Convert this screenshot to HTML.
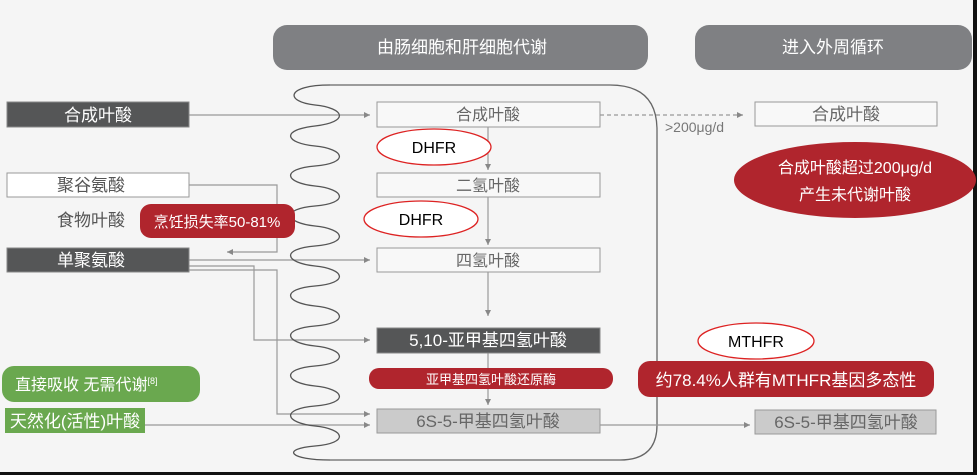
<!DOCTYPE html>
<html><head><meta charset="utf-8"><style>
body{margin:0;width:977px;height:475px;overflow:hidden;background:#f5f5f5;font-family:"Liberation Sans","Noto Sans CJK SC",sans-serif}
</style></head><body>
<svg width="977" height="475" xmlns="http://www.w3.org/2000/svg" style="position:absolute;left:0;top:0" font-family="Liberation Sans, Noto Sans CJK SC, sans-serif">
<defs><marker id="a" markerWidth="8" markerHeight="8" refX="6" refY="4" orient="auto" markerUnits="userSpaceOnUse"><path d="M0,1 L6,4 L0,7 Z" fill="#888"/></marker></defs>
<rect x="0" y="0" width="977" height="475" fill="#f5f5f5"/>
<rect x="973" y="0" width="4" height="475" fill="#111"/>
<rect x="0" y="472" width="977" height="3" fill="#111"/>
<rect x="273" y="25" width="375" height="45" rx="14" fill="#7f8083"/>
<text x="462" y="53" fill="#fff" font-size="17" text-anchor="middle">由肠细胞和肝细胞代谢</text>
<rect x="695" y="25" width="277" height="45" rx="14" fill="#7f8083"/>
<text x="833" y="53" fill="#fff" font-size="17" text-anchor="middle">进入外周循环</text>
<path d="M330,85 L610,85 Q657,85 657,130 L657,425 Q657,460 620,460 L330,460" fill="none" stroke="#666" stroke-width="1.3"/>
<g stroke="#999" stroke-width="1.2" fill="none">
<line x1="189" y1="115" x2="370" y2="115" marker-end="url(#a)"/>
<path d="M189,185 L277,185 L277,252 L227,252" marker-end="url(#a)"/>
<line x1="189" y1="260" x2="370" y2="260" marker-end="url(#a)"/>
<path d="M189,266 L254,266 L254,340 L370,340" marker-end="url(#a)"/>
<path d="M189,270 L277,270 L277,414 L370,414" marker-end="url(#a)"/>
<line x1="145" y1="425" x2="370" y2="425" marker-end="url(#a)"/>
<line x1="488" y1="127" x2="488" y2="170" marker-end="url(#a)"/>
<line x1="488" y1="197" x2="488" y2="245" marker-end="url(#a)"/>
<line x1="488" y1="272" x2="488" y2="316" marker-end="url(#a)"/>
<line x1="488" y1="353" x2="488" y2="405" marker-end="url(#a)"/>
<line x1="600" y1="425" x2="750" y2="425" marker-end="url(#a)"/>
<line x1="600" y1="115" x2="743" y2="115" stroke-dasharray="4,3" marker-end="url(#a)"/>
</g>
<path d="M330,85 C285,85 285,102 315,105 S350,122 315,126 S285,143 315,146 S350,163 315,166 S285,183 315,186 S350,203 315,206 S285,223 315,226 S350,243 315,246 S285,263 315,266 S350,283 315,286 S285,303 315,306 S350,323 315,326 S285,343 315,346 S350,363 315,366 S285,383 315,386 S350,403 315,406 S285,423 315,426 S350,443 315,446 S290,460 330,460" fill="none" stroke="#555" stroke-width="1.3"/>
<rect x="7" y="102" width="182" height="25" fill="#555657" stroke="#888"/>
<text x="98" y="121" fill="#fff" font-size="17" text-anchor="middle">合成叶酸</text>
<rect x="7" y="173" width="182" height="24" fill="#fff" stroke="#999"/>
<text x="91" y="191" fill="#555" font-size="17" text-anchor="middle">聚谷氨酸</text>
<text x="91" y="226" fill="#555" font-size="17" text-anchor="middle">食物叶酸</text>
<rect x="140" y="204" width="155" height="34" rx="11" fill="#b0252d"/>
<text x="217" y="227" fill="#fff" font-size="15" text-anchor="middle">烹饪损失率50-81%</text>
<rect x="7" y="248" width="182" height="24" fill="#555657" stroke="#888"/>
<text x="91" y="266" fill="#fff" font-size="17" text-anchor="middle">单聚氨酸</text>
<rect x="2" y="366" width="198" height="36" rx="12" fill="#6aa84f"/>
<text x="15" y="390" fill="#fff" font-size="16">直接吸收 无需代谢<tspan font-size="9" dy="-6">[8]</tspan></text>
<rect x="5" y="408" width="140" height="25" fill="#6aa84f"/>
<text x="75" y="427" fill="#fff" font-size="17" text-anchor="middle">天然化(活性)叶酸</text>
<g font-size="16" text-anchor="middle">
<rect x="377" y="102" width="223" height="25" fill="#f8f8f8" stroke="#999"/>
<text x="488" y="120" fill="#666">合成叶酸</text>
<rect x="377" y="173" width="223" height="24" fill="#f8f8f8" stroke="#999"/>
<text x="488" y="191" fill="#666">二氢叶酸</text>
<rect x="377" y="248" width="223" height="24" fill="#f8f8f8" stroke="#999"/>
<text x="488" y="266" fill="#666">四氢叶酸</text>
<rect x="377" y="328" width="223" height="25" fill="#555657" stroke="#888"/>
<text x="488" y="346" fill="#fff" font-size="17">5,10-亚甲基四氢叶酸</text>
<rect x="369" y="368" width="244" height="21" rx="10" fill="#b0252d"/>
<text x="491" y="384" fill="#fff" font-size="13">亚甲基四氢叶酸还原酶</text>
<rect x="377" y="409" width="223" height="24" fill="#cbcbcb" stroke="#999"/>
<text x="488" y="427" fill="#666" font-size="17">6S-5-甲基四氢叶酸</text>
</g>
<ellipse cx="434" cy="147" rx="57" ry="18" fill="#fff" stroke="#d22" stroke-width="1.3"/>
<text x="434" y="153" font-size="16" text-anchor="middle" fill="#000">DHFR</text>
<ellipse cx="421" cy="219" rx="57" ry="18" fill="#fff" stroke="#d22" stroke-width="1.3"/>
<text x="421" y="225" font-size="16" text-anchor="middle" fill="#000">DHFR</text>
<text x="665" y="132" font-size="14" fill="#777">&gt;200μg/d</text>
<rect x="755" y="102" width="182" height="24" fill="#f8f8f8" stroke="#999"/>
<text x="846" y="120" font-size="17" fill="#666" text-anchor="middle">合成叶酸</text>
<ellipse cx="855" cy="180" rx="121" ry="38" fill="#b0252d"/>
<text x="855" y="173" font-size="16" fill="#fff" text-anchor="middle">合成叶酸超过200μg/d</text>
<text x="855" y="200" font-size="16" fill="#fff" text-anchor="middle">产生未代谢叶酸</text>
<ellipse cx="756" cy="341" rx="58" ry="18" fill="#fff" stroke="#d22" stroke-width="1.3"/>
<text x="756" y="347" font-size="16" text-anchor="middle" fill="#000">MTHFR</text>
<rect x="638" y="361" width="296" height="36" rx="12" fill="#b0252d"/>
<text x="786" y="386" font-size="17" fill="#fff" text-anchor="middle">约78.4%人群有MTHFR基因多态性</text>
<rect x="755" y="410" width="181" height="24" fill="#cbcbcb" stroke="#999"/>
<text x="846" y="428" font-size="17" fill="#666" text-anchor="middle">6S-5-甲基四氢叶酸</text>
</svg>
</body></html>
